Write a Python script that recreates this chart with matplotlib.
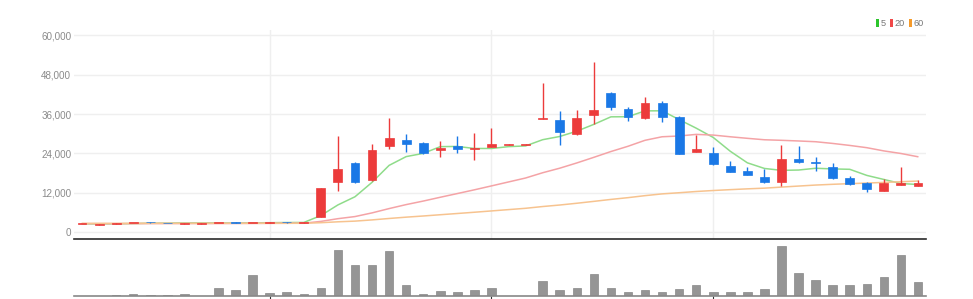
import matplotlib
matplotlib.use('Agg')
import matplotlib.pyplot as plt
import numpy as np
from matplotlib.patches import Rectangle
from matplotlib.font_manager import FontProperties

# ---------------- data ----------------
prior_closes = [2700, 2650, 2700, 2750, 2700, 2650, 2600, 2650, 2700, 2750,
                2700, 2650, 2700, 2750, 2800, 2750, 2700, 2650, 2700, 2650,
                2600, 2650, 2700, 2750, 2700, 2650, 2700, 2700, 2650, 2600,
                2650, 2700, 2750, 2700, 2650, 2600, 2650, 2700, 2650, 2600,
                2550, 2600, 2650, 2600, 2550, 2600, 2650, 2600, 2550, 2500,
                2550, 2600, 2550, 2500, 2450, 2500, 2550, 2500, 2450]

opens = [2350, 2250, 2550, 2700, 3150, 2850, 2550, 2550, 2700, 3050,
         2700, 2800, 3150, 2800, 4700, 15400, 21000, 15900, 26300, 28100,
         27300, 25000, 26300, 25200, 25900, 26700, 26700, 34600, 34200, 29900,
         35700, 42300, 37500, 34700, 39500, 35200, 24500, 24000, 20100, 18600,
         16900, 15200, 22300, 21500, 19900, 16600, 14900, 12600, 14400, 14000]
highs = [2550, 2450, 2750, 2900, 3200, 2900, 2750, 2750, 2900, 3100,
         2900, 3000, 3200, 3000, 13500, 29300, 21500, 26900, 34700, 29900,
         27600, 27900, 29300, 30100, 31700, 26900, 26900, 45400, 36900, 37200,
         51800, 42800, 38100, 41300, 40000, 35300, 29600, 26000, 21800, 19700,
         19200, 26600, 26300, 23000, 21200, 17100, 15400, 16100, 19800, 15900]
lows = [2300, 2200, 2500, 2650, 2900, 2600, 2500, 2500, 2650, 2800,
        2650, 2750, 2900, 2750, 4600, 12500, 15000, 15600, 25200, 24300,
        23900, 23000, 24000, 22000, 25800, 26700, 26700, 34600, 26600, 29600,
        33000, 37200, 33900, 34400, 33700, 23700, 24500, 20500, 18300, 17300,
        15100, 14100, 21200, 18600, 16300, 14500, 12300, 12600, 14300, 13900]
closes = [2500, 2400, 2700, 2850, 2950, 2650, 2700, 2700, 2850, 2850,
          2850, 2950, 2950, 2950, 13400, 19100, 15400, 25000, 28800, 26800,
          24000, 25700, 25300, 25700, 26800, 26800, 26800, 34800, 30600, 34900,
          37200, 38300, 35000, 39500, 35000, 23800, 25200, 20800, 18400, 17400,
          15200, 22300, 21300, 21100, 16400, 14600, 13000, 15100, 14900, 14900]
volumes = [0.3, 0.4, 1.0, 2.0, 1.3, 1.3, 2.0, 0.3, 8.3, 5.7,
           20.7, 3.0, 3.7, 2.3, 8.3, 46.3, 31.3, 31.3, 45.0, 11.3,
           2.3, 5.0, 4.0, 5.7, 8.3, 0.2, 0.2, 15.0, 5.7, 8.3,
           22.3, 8.3, 3.7, 5.7, 3.7, 7.3, 11.3, 3.7, 4.0, 3.7,
           7.3, 49.7, 23.3, 16.3, 10.7, 10.7, 12.0, 19.0, 40.7, 14.0]

ma_periods = [5, 20, 60]
ma_labels = ['5', '20', '60']
y_ticks = [0, 12000, 24000, 36000, 48000, 60000]
y_tick_labels = ['0', '12,000', '24,000', '36,000', '48,000', '60,000']
month_breaks = [11, 24, 37]

# ---------------- style ----------------
UP = '#ec3b3b'
DOWN = '#1a78e6'
MA_COLORS = ['#8fdc8a', '#f4a3a6', '#f7c38f']
LEG_COLORS = ['#2cc52c', '#f04848', '#f59a2a']
GRID = '#efefef'
TXT = '#8a8a8a'
FAM = ['Liberation Sans', 'DejaVu Sans']

tick_fp = FontProperties(family=FAM, size=7.1)
leg_fp = FontProperties(family=FAM, size=6.6)

W, H = 973, 299
fig = plt.figure(figsize=(W / 100, H / 100), dpi=100)


def fx(px):
    return px / W


def fy(py):
    return 1 - py / H


ax = fig.add_axes([fx(74), fy(239), fx(926 - 74), (239 - 30) / H])
axv = fig.add_axes([fx(74), fy(296), fx(926 - 74), (296 - 241) / H])

n = len(closes)
x = np.arange(n)

# moving averages from closes (with prior history)
allc = np.array(prior_closes + closes, dtype=float)
for p, col in zip(ma_periods, MA_COLORS):
    ma = np.array([allc[i - p + 1:i + 1].mean() for i in range(len(prior_closes), len(allc))])
    ax.plot(x, ma, color=col, lw=1.1, zorder=2, solid_capstyle='round')

bw = 0.52
for i in range(n):
    o, h, l, c = opens[i], highs[i], lows[i], closes[i]
    col = UP if c >= o else DOWN
    ax.plot([i, i], [l, h], color=col, lw=1.0, zorder=3, solid_capstyle='butt')
    bot = min(o, c)
    hgt = max(abs(c - o), 250)
    ax.add_patch(Rectangle((i - bw / 2, bot), bw, hgt, facecolor=col, edgecolor=col, lw=0.5, zorder=4))

ax.set_xlim(-0.47, n - 1 + 0.47)
ax.set_ylim(-2137, 61670)
ax.set_yticks(y_ticks)
ax.set_yticklabels(y_tick_labels, fontproperties=tick_fp, color=TXT)
ax.set_xticks(month_breaks)
ax.set_xticklabels([])
ax.tick_params(axis='y', length=0, pad=2)
ax.tick_params(axis='x', length=0)
ax.grid(True, color=GRID, lw=1.0, zorder=0)
ax.set_axisbelow(True)
for s in ['top', 'right', 'left']:
    ax.spines[s].set_visible(False)
ax.spines['bottom'].set_color('#2a2a2a')
ax.spines['bottom'].set_linewidth(1.2)

# volume
axv.bar(x, volumes, width=0.5, color='#959595', edgecolor='#888888', lw=0.5, zorder=2)
axv.set_xlim(-0.47, n - 1 + 0.47)
axv.set_ylim(0, 55)
axv.set_yticks([])
axv.set_xticks(month_breaks)
axv.set_xticklabels([])
axv.tick_params(axis='x', length=3, width=0.8, color='#333333', direction='out')
for s in ['top', 'right', 'left']:
    axv.spines[s].set_visible(False)
axv.spines['bottom'].set_color('#888888')
axv.spines['bottom'].set_linewidth(1.2)

# legend
leg_x = [876, 890, 909]
txt_x = [880.5, 894.5, 913.5]
for lx, tx, col, lab in zip(leg_x, txt_x, LEG_COLORS, ma_labels):
    fig.patches.append(Rectangle((fx(lx), fy(26.5)), fx(3.4), 7.5 / H, transform=fig.transFigure,
                                 facecolor=col, edgecolor='none'))
    fig.text(fx(tx), fy(23), lab, fontproperties=leg_fp, color='#777777', va='center', ha='left')

fig.savefig('out.png', dpi=100)
